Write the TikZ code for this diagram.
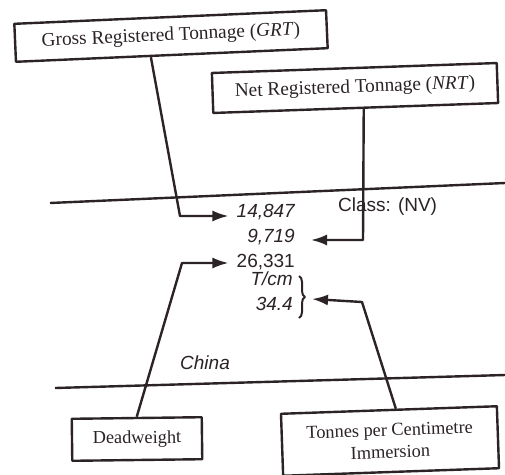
\documentclass[tikz,border=0pt]{standalone}
\usepackage{fontspec}
\setmainfont{Liberation Serif}
\setsansfont{Liberation Sans}
\usetikzlibrary{arrows.meta, calc, decorations.pathreplacing}
\definecolor{inkdark}{HTML}{2B2326}

\begin{document}
\begin{tikzpicture}[x=1pt, y=-1pt, line join=round, inkdark,
        tagbox/.style={draw, line width=2.4pt, inner sep=0pt, align=center,
                       font=\fontsize{18.3}{22}\selectfont},
        bigtag/.style={tagbox, font=\fontsize{19.3}{23}\selectfont},
        figtext/.style={inner sep=2pt, font=\sffamily\fontsize{19}{21}\selectfont},
        conn/.style={line width=2.4pt, -{Latex[length=16pt, width=11pt]}}]
        \useasboundingbox[fill=white] (0,0) rectangle (505,474);
        % boxes round the entry
        \node[bigtag, minimum width=312pt, minimum height=38pt, rotate=2.5] (grt) at (171,36)
            {Gross Registered Tonnage (\textit{GRT})};
        \node[bigtag, minimum width=285pt, minimum height=40pt, rotate=2] (nrt) at (355,88)
            {Net Registered Tonnage (\textit{NRT})};
        \node[tagbox, minimum width=130pt, minimum height=42pt, rotate=0.7] (dwt) at (137,439)
            {Deadweight};
        \node[tagbox, minimum width=216pt, minimum height=62pt, rotate=2] (tpc) at (390,441)
            {Tonnes per Centimetre\\Immersion};
        % the register entry
        \draw[line width=2.4pt] (50,203) -- (505,183);
        \draw[line width=2.4pt] (55,388) -- (505,375);
        \node[figtext, anchor=east] (gross) at (297,212) {\itshape 14,847};
        \node[figtext, anchor=east] (net) at (297,237) {\itshape 9,719};
        \node[figtext, anchor=east] (dead) at (297,262) {26,331};
        \node[figtext, anchor=east] (tcm) at (295,279) {\itshape T/cm};
        \node[figtext, anchor=east] (tpcval) at (295,304) {\itshape 34.4};
        \node[figtext, anchor=west] (class) at (336,207) {Class: (NV)};
        \node[figtext, anchor=west] (china) at (178,363) {\itshape China};
        \draw[line width=2pt, decorate, decoration={brace, amplitude=6pt}]
            (299,276) -- (299,318);
        \coordinate (bracetip) at (312,299);
        % connectors
        \draw[conn] ($(grt.south)+(-21,1)$) -- (180,216) -- ($(gross.west)+(-6,4)$);
        \draw[conn] ($(nrt.south)+(8,-1)$) -- (363,240) -- ($(net.east)+(14,3)$);
        \draw[conn] (dwt.north) -- (182,263) -- ($(dead.west)+(-6,1)$);
        \draw[conn] ($(tpc.north)+(7,0)$) -- (362,302) -- (bracetip);
    \end{tikzpicture}
\end{document}
